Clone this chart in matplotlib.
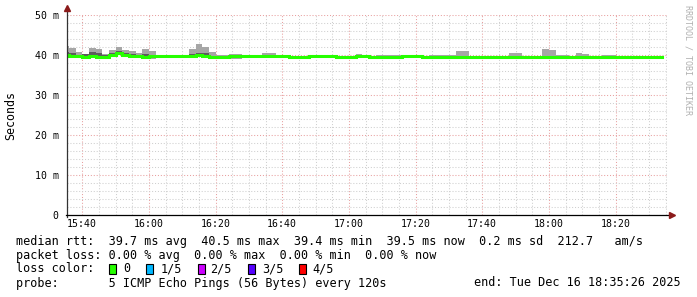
import matplotlib
matplotlib.use("Agg")
import numpy as np
import matplotlib.pyplot as plt
from matplotlib.patches import Rectangle

# ================= DATA =================
# one value per 2-minute step, first step starts 15:34 (minutes after 15:00)
start_min = 34
step_min = 2

median_ms = [
    39.9, 39.8, 39.8, 39.6, 39.8, 39.4, 39.6, 40.1, 40.5, 40.0,
    39.8, 39.7, 39.5, 39.7, 39.7, 39.7, 39.7, 39.7, 39.7, 39.8,
    39.9, 39.8, 39.5, 39.5, 39.6, 39.7, 39.7, 39.7, 39.7, 39.7,
    39.8, 39.8, 39.7, 39.7, 39.5, 39.4, 39.4, 39.7, 39.7, 39.7,
    39.7, 39.4, 39.4, 39.4, 39.7, 39.7, 39.4, 39.4, 39.4, 39.4,
    39.4, 39.7, 39.7, 39.7, 39.4, 39.6, 39.6, 39.6, 39.6, 39.6,
    39.6, 39.6, 39.6, 39.6, 39.6, 39.6, 39.6, 39.6, 39.6, 39.5,
    39.5, 39.5, 39.6, 39.6, 39.6, 39.6, 39.6, 39.6, 39.6, 39.4,
    39.4, 39.45, 39.45, 39.6, 39.6, 39.45, 39.45, 39.45, 39.45, 39.5,
]
max_ms = [
    42.3, 41.7, 40.8, 40.3, 41.7, 41.5, 40.3, 41.3, 42.0, 41.3,
    41.0, 40.6, 41.5, 41.0, 40.0, 39.9, 39.9, 39.9, 40.0, 41.5,
    42.8, 41.9, 40.7, 40.1, 40.0, 40.3, 40.3, 40.0, 40.0, 39.9,
    40.5, 40.5, 40.0, 39.9, 39.8, 39.8, 39.8, 39.9, 39.9, 39.9,
    39.9, 39.8, 39.8, 39.8, 40.3, 39.9, 39.8, 39.9, 39.9, 40.0,
    40.0, 39.9, 39.9, 39.9, 39.8, 40.0, 40.0, 39.9, 39.9, 41.1,
    41.1, 39.8, 39.8, 39.8, 39.8, 39.8, 39.8, 40.6, 40.4, 39.8,
    39.8, 39.8, 41.6, 41.25, 39.9, 39.9, 39.8, 40.4, 40.2, 39.7,
    39.7, 39.9, 39.9, 39.8, 39.8, 39.6, 39.6, 39.6, 39.6, 39.6,
]
min_ms = [
    39.5, 39.3, 39.5, 39.3, 39.2, 39.1, 39.3, 39.7, 39.9, 39.6,
    39.5, 39.4, 39.2, 39.0, 39.4, 39.5, 39.5, 39.5, 39.4, 39.5,
    39.5, 39.5, 39.2, 39.2, 39.3, 39.1, 39.1, 39.4, 39.4, 39.4,
    39.5, 39.5, 39.4, 39.4, 39.2, 39.2, 39.2, 39.4, 39.4, 39.4,
    39.4, 39.2, 39.2, 39.2, 39.4, 39.4, 39.2, 39.2, 39.2, 39.2,
    39.2, 39.4, 39.4, 39.4, 39.2, 39.3, 39.3, 39.3, 39.3, 39.3,
    39.3, 39.3, 39.3, 39.3, 39.3, 39.3, 39.3, 39.3, 39.3, 39.3,
    39.3, 39.3, 39.3, 39.3, 39.2, 39.2, 39.3, 39.3, 39.3, 39.2,
    39.2, 39.2, 39.2, 39.3, 39.3, 39.2, 39.2, 39.2, 39.2, 39.2,
]
# inner band (2nd .. 4th ping)
q_hi_ms = [
    40.8, 40.5, 40.1, 40.3, 40.8, 40.5, 40.0, 40.6, 41.0, 40.5,
    40.3, 40.1, 40.2, 40.0, 39.8, 39.8, 39.8, 39.8, 39.8, 40.3,
    40.6, 40.4, 39.7, 39.7, 39.7, 39.8, 39.8, 39.8, 39.8, 39.8,
    39.9, 39.9, 39.8, 39.8, 39.6, 39.5, 39.5, 39.8, 39.8, 39.8,
    39.8, 39.5, 39.5, 39.5, 39.8, 39.8, 39.5, 39.5, 39.5, 39.5,
    39.5, 39.8, 39.8, 39.8, 39.5, 39.7, 39.7, 39.7, 39.7, 39.7,
    39.7, 39.7, 39.7, 39.7, 39.7, 39.7, 39.7, 39.7, 39.7, 39.6,
    39.6, 39.6, 39.7, 39.7, 39.7, 39.7, 39.7, 39.7, 39.7, 39.5,
    39.5, 39.55, 39.55, 39.7, 39.7, 39.55, 39.55, 39.55, 39.55, 39.6,
]

loss_labels = ["0", "1/5", "2/5", "3/5", "4/5"]
loss_colors = ["#26ff00", "#00b8ff", "#cc00ff", "#5500ff", "#ff0000"]

x_ticks = [40, 60, 80, 100, 120, 140, 160, 180, 200]

# ================= FIGURE =================
W, H = 697, 297
MONO = "DejaVu Sans Mono"

def fx(x):
    return x / W

def fy(y):
    return 1 - y / H

fig = plt.figure(figsize=(W / 100, H / 100), dpi=100)
fig.patch.set_facecolor("white")
ax = fig.add_axes([fx(67), fy(215), 600 / W, 200 / H])

edges = start_min + step_min * np.arange(len(median_ms) + 1)
lo = np.array(min_ms)
hi = np.array(max_ms)
med = np.array(median_ms)
qh = np.array(q_hi_ms)

# smoke
ax.bar(edges[:-1], hi - lo, bottom=lo, width=step_min, align="edge",
       color="#a6a6a6", linewidth=0, zorder=2)
ax.bar(edges[:-1], qh - (med - 0.15), bottom=med - 0.15, width=step_min,
       align="edge", color="#5c5c5c", linewidth=0, zorder=3)
# median
ax.step(edges, np.append(med, med[-1]), where="post", color="#26ff00",
        lw=2.2, zorder=4, solid_joinstyle="miter")

ax.set_xlim(35 + 26 / 60, 215 + 26 / 60)
ax.set_ylim(0, 50)

# ---------- grid ----------
ax.set_xticks(x_ticks)
ax.set_xticks(np.arange(40, 216, 5), minor=True)
ax.set_yticks([0, 10, 20, 30, 40, 50])
ax.set_yticks(np.arange(0, 51, 2), minor=True)
ax.grid(which="minor", color="#cfcfcf", lw=0.75, linestyle=(0, (1, 1.8)), zorder=0)
ax.grid(which="major", color="#e8a0a0", lw=0.75, linestyle=(0, (1, 1.8)), zorder=1)
ax.set_axisbelow(True)

ax.set_xticklabels([f"{15 + m // 60}:{m % 60:02d}" for m in x_ticks],
                   family=MONO, fontsize=7.1)
ax.set_yticklabels(["0"] + [f"{v} m" for v in [10, 20, 30, 40, 50]],
                   family=MONO, fontsize=7.1)
ax.tick_params(which="both", length=0)
ax.tick_params(axis="x", pad=3)
ax.tick_params(axis="y", pad=6)

for s in ax.spines.values():
    s.set_visible(False)

# axes lines with arrows
ax.plot([0, 0], [-0.01, 1.02], transform=ax.transAxes, color="#333333",
        lw=0.9, clip_on=False, zorder=5)
ax.plot([-0.002, 1.002], [0, 0], transform=ax.transAxes, color="black",
        lw=0.9, clip_on=False, zorder=5)
ax.plot(0, 1.035, marker="^", color="#8b1a1a", ms=4, transform=ax.transAxes,
        clip_on=False, zorder=6)
ax.plot(1.008, 0, marker=">", color="#8b1a1a", ms=4, transform=ax.transAxes,
        clip_on=False, zorder=6)

# y label
fig.text(fx(11), fy(115), "Seconds", rotation=90, family=MONO, fontsize=8.4,
         ha="center", va="center")

# watermark
fig.text(fx(688), fy(5), "RRDTOOL / TOBI OETIKER", rotation=270, family=MONO,
         fontsize=6, color="#b0b0b0", ha="center", va="top")

# ---------- legend text ----------
fs = 8.5
fig.text(fx(16), fy(241),
         "median rtt:  39.7 ms avg  40.5 ms max  39.4 ms min  39.5 ms now  0.2 ms sd  212.7   am/s",
         family=MONO, fontsize=fs, va="center")
fig.text(fx(16), fy(255),
         "packet loss: 0.00 % avg  0.00 % max  0.00 % min  0.00 % now",
         family=MONO, fontsize=fs, va="center")
fig.text(fx(16), fy(269), "loss color:", family=MONO, fontsize=fs, va="center")

sq_x = [108.5, 146, 197.5, 248, 298.5]
lab_x = [123, 161, 210, 262, 312.5]
for sx, lx, lab, c in zip(sq_x, lab_x, loss_labels, loss_colors):
    fig.add_artist(Rectangle((fx(sx), fy(274)), 7 / W, 10 / H,
                             transform=fig.transFigure, facecolor=c,
                             edgecolor="black", lw=0.8))
    fig.text(fx(lx), fy(269), lab, family=MONO, fontsize=fs, va="center")

fig.text(fx(16), fy(283), "probe:       5 ICMP Echo Pings (56 Bytes) every 120s",
         family=MONO, fontsize=fs, va="center")
fig.text(fx(681), fy(283), "end: Tue Dec 16 18:35:26 2025",
         family=MONO, fontsize=fs, va="center", ha="right")

fig.savefig("out.png", dpi=100, facecolor="white")
